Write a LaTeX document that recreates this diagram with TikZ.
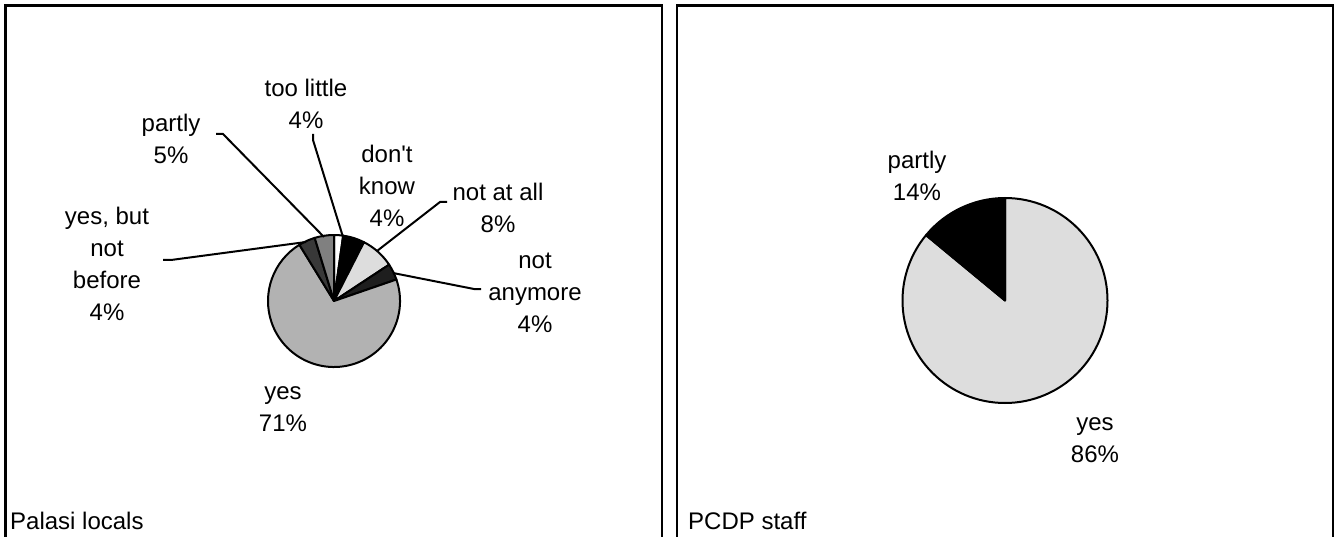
\documentclass[tikz,border=0pt]{standalone}
\usepackage{fontspec}
\setmainfont{Liberation Sans}[Ligatures=TeXOff]
\definecolor{lgray}{HTML}{DDDDDD}
\definecolor{ygray}{HTML}{B2B2B2}
\definecolor{mgray}{HTML}{808080}
\definecolor{dgray}{HTML}{383838}
\definecolor{vdark}{HTML}{1E1E1E}
\tikzset{
  frameline/.style={line width=2.7pt, black},
  slice/.style={draw=black, line width=2pt, line join=round},
  lbl/.style={align=center, inner sep=0pt, font=\fontsize{24}{32}\selectfont},
  lead/.style={line width=2pt, black},
  caption/.style={anchor=west, inner sep=0pt, font=\fontsize{24}{28}\selectfont}
}
\begin{document}
\begin{tikzpicture}[x=1pt, y=-1pt]
\useasboundingbox (0,0) rectangle (1335,537);
% frames
\draw[frameline] (5.5,540) -- (5.5,5.3) -- (662,5.3) -- (662,540);
\draw[frameline] (677,540) -- (677,5.3) -- (1333,5.3) -- (1333,540);
% ---- left pie ----
\coordinate (L) at (334,301);
\def\R{66}
\filldraw[slice, fill=white]  (L) -- ++(-90:\R) arc[start angle=-90, end angle=-82, radius=\R] -- cycle;
\filldraw[slice, fill=black]  (L) -- ++(-82:\R) arc[start angle=-82, end angle=-63, radius=\R] -- cycle;
\filldraw[slice, fill=lgray]  (L) -- ++(-63:\R) arc[start angle=-63, end angle=-33.4, radius=\R] -- cycle;
\filldraw[slice, fill=vdark]  (L) -- ++(-33.4:\R) arc[start angle=-33.4, end angle=-19, radius=\R] -- cycle;
\filldraw[slice, fill=ygray]  (L) -- ++(-19:\R) arc[start angle=-19, end angle=238.4, radius=\R] -- cycle;
\filldraw[slice, fill=dgray]  (L) -- ++(238.4:\R) arc[start angle=238.4, end angle=253, radius=\R] -- cycle;
\filldraw[slice, fill=mgray]  (L) -- ++(253:\R) arc[start angle=253, end angle=270, radius=\R] -- cycle;
% left labels
\node[lbl] (toolittle) at (306,104) {too little\\4\%};
\node[lbl] (partlyL) at (171,138.5) {partly\\5\%};
\node[lbl] (dontknow) at (387,186) {don't\\know\\4\%};
\node[lbl] (notatall) at (498,207.5) {not at all\\8\%};
\node[lbl] (notanymore) at (535,292.5) {not\\anymore\\4\%};
\node[lbl] (yesbut) at (107,263.5) {yes, but\\not\\before\\4\%};
\node[lbl] (yesL) at (283,409) {yes\\71\%};
% leader coordinates
\coordinate (pA) at (216,134); \coordinate (pB) at (223,134); \coordinate (pC) at (324,237);
\coordinate (tA) at (313,134); \coordinate (tB) at (313,140); \coordinate (tC) at (343,237);
\coordinate (nA) at (447,202); \coordinate (nB) at (440,202); \coordinate (nC) at (377,251);
\coordinate (mA) at (481,289); \coordinate (mB) at (474,289); \coordinate (mC) at (393,273);
\coordinate (yA) at (163,260); \coordinate (yB) at (171,260); \coordinate (yC) at (306,242);
\draw[lead] (pA) -- (pB) -- (pC);
\draw[lead] (tA) -- (tB) -- (tC);
\draw[lead] (nA) -- (nB) -- (nC);
\draw[lead] (mA) -- (mB) -- (mC);
\draw[lead] (yA) -- (yB) -- (yC);
\node[caption] (capL) at (10,521) {Palasi locals};
% ---- right pie ----
\coordinate (Rc) at (1005,300.5);
\def\RR{102.5}
\filldraw[slice, fill=lgray] (Rc) -- ++(-90:\RR) arc[start angle=-90, end angle=219.6, radius=\RR] -- cycle;
\filldraw[slice, fill=black] (Rc) -- ++(219.6:\RR) arc[start angle=219.6, end angle=270, radius=\RR] -- cycle;
\node[lbl] (partlyR) at (917,176) {partly\\14\%};
\node[lbl] (yesR) at (1095,440) {yes\\86\%};
\node[caption] (capR) at (688,521) {PCDP staff};
\end{tikzpicture}
\end{document}
